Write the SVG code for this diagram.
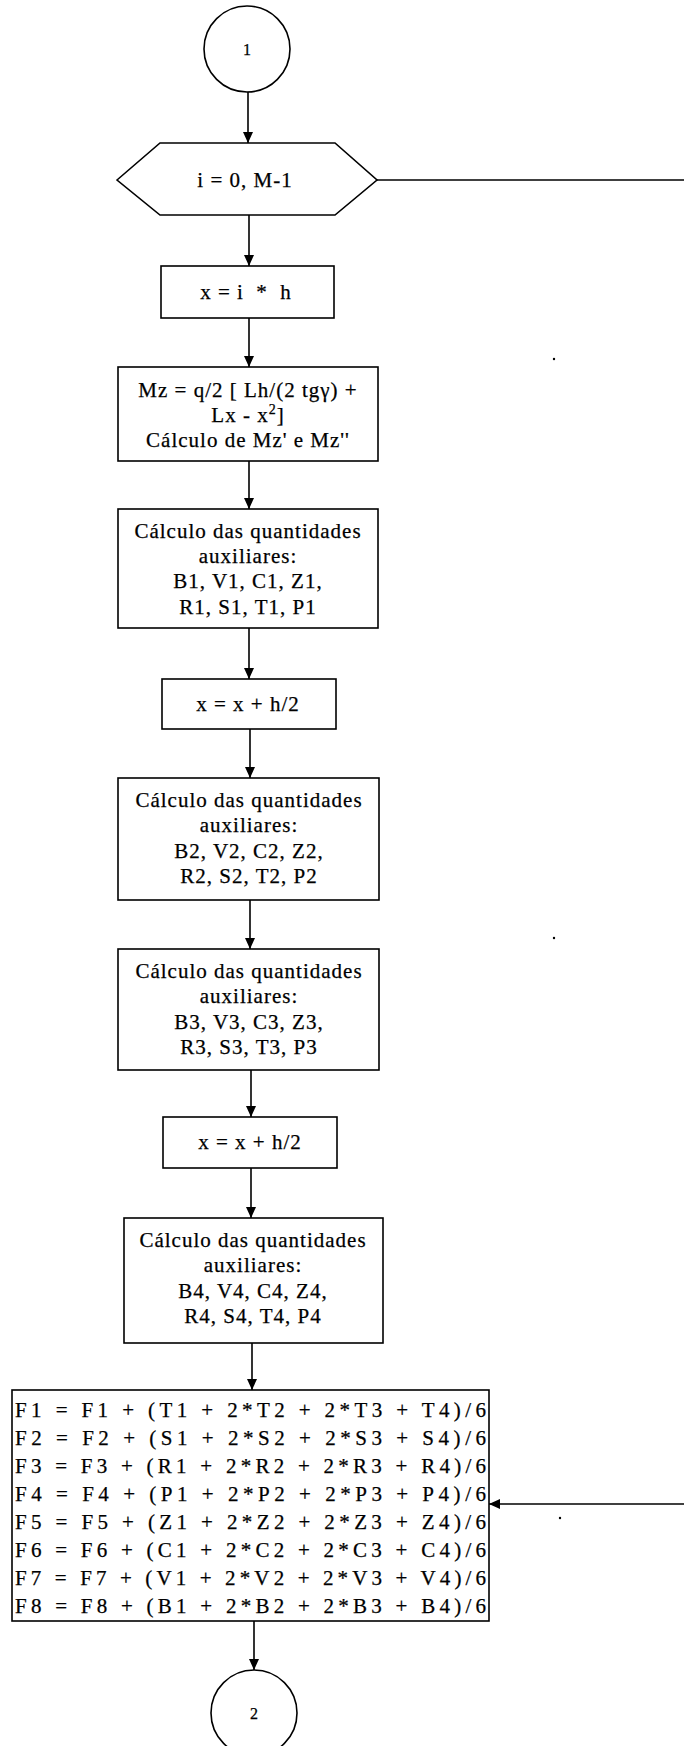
<svg xmlns="http://www.w3.org/2000/svg" width="684" height="1746" viewBox="0 0 684 1746">
<style>
.s{fill:#fff;stroke:#000;stroke-width:1.6}
.t{font-family:"Liberation Serif","Times New Roman",serif;font-size:21px;letter-spacing:1px;text-anchor:middle;fill:#000;stroke:#000;stroke-width:0.25}
.f{font-family:"Liberation Serif","Times New Roman",serif;font-size:21px;fill:#000;stroke:#000;stroke-width:0.25}
.c{fill:none;stroke:#000;stroke-width:1.6}
</style>
<defs>
<marker id="ah" markerWidth="12" markerHeight="12" refX="11" refY="5.5" orient="auto" markerUnits="userSpaceOnUse">
<path d="M0,0.5 L11,5.5 L0,10.5 Z" fill="#000"/>
</marker>
</defs>
<rect width="684" height="1746" fill="#fff"/>
<g id="connectors">
<line class="c" x1="248" y1="92" x2="248" y2="143" marker-end="url(#ah)"/>
<line class="c" x1="377" y1="180" x2="684" y2="180"/>
<line class="c" x1="249" y1="215" x2="249" y2="266" marker-end="url(#ah)"/>
<line class="c" x1="249" y1="318" x2="249" y2="367" marker-end="url(#ah)"/>
<line class="c" x1="249" y1="461" x2="249" y2="509" marker-end="url(#ah)"/>
<line class="c" x1="249" y1="628" x2="249" y2="679" marker-end="url(#ah)"/>
<line class="c" x1="250" y1="729" x2="250" y2="778" marker-end="url(#ah)"/>
<line class="c" x1="250" y1="900" x2="250" y2="949" marker-end="url(#ah)"/>
<line class="c" x1="251" y1="1070" x2="251" y2="1117" marker-end="url(#ah)"/>
<line class="c" x1="251" y1="1168" x2="251" y2="1218" marker-end="url(#ah)"/>
<line class="c" x1="252" y1="1343" x2="252" y2="1390" marker-end="url(#ah)"/>
<line class="c" x1="254" y1="1621" x2="254" y2="1670" marker-end="url(#ah)"/>
<line class="c" x1="684" y1="1504" x2="489" y2="1504" marker-end="url(#ah)"/>
</g>
<g id="start1">
<circle class="s" cx="247" cy="49" r="43"/>
<text class="t" x="247" y="55" style="font-size:16px;letter-spacing:0">1</text>
</g>
<g id="loop">
<polygon class="s" points="117,180 160,143 335,143 377,180 335,215 160,215"/>
<text class="t" x="245" y="187">i = 0, M-1</text>
</g>
<g id="xih">
<rect class="s" x="161" y="266" width="173" height="52"/>
<text class="t" x="246" y="299" xml:space="preserve">x = i  *  h</text>
</g>
<g id="mz">
<rect class="s" x="118" y="367" width="260" height="94"/>
<text class="t" x="248" y="397">Mz = q/2 [ Lh/(2 tgγ) +</text>
<text class="t" x="248" y="422">Lx - x<tspan dy="-8" style="font-size:14px">2</tspan><tspan dy="8">]</tspan></text>
<text class="t" x="248" y="447">Cálculo de Mz' e Mz''</text>
</g>
<g id="aux1">
<rect class="s" x="118" y="509" width="260" height="119"/>
<text class="t" x="248" y="538">Cálculo das quantidades</text>
<text class="t" x="248" y="563">auxiliares:</text>
<text class="t" x="248" y="588">B1, V1, C1, Z1,</text>
<text class="t" x="248" y="614">R1, S1, T1, P1</text>
</g>
<g id="xh2a">
<rect class="s" x="162" y="679" width="174" height="50"/>
<text class="t" x="248" y="711">x = x + h/2</text>
</g>
<g id="aux2">
<rect class="s" x="118" y="778" width="261" height="122"/>
<text class="t" x="249" y="807">Cálculo das quantidades</text>
<text class="t" x="249" y="832">auxiliares:</text>
<text class="t" x="249" y="858">B2, V2, C2, Z2,</text>
<text class="t" x="249" y="883">R2, S2, T2, P2</text>
</g>
<g id="aux3">
<rect class="s" x="118" y="949" width="261" height="121"/>
<text class="t" x="249" y="978">Cálculo das quantidades</text>
<text class="t" x="249" y="1003">auxiliares:</text>
<text class="t" x="249" y="1029">B3, V3, C3, Z3,</text>
<text class="t" x="249" y="1054">R3, S3, T3, P3</text>
</g>
<g id="xh2b">
<rect class="s" x="163" y="1117" width="174" height="51"/>
<text class="t" x="250" y="1149">x = x + h/2</text>
</g>
<g id="aux4">
<rect class="s" x="124" y="1218" width="259" height="125"/>
<text class="t" x="253" y="1247">Cálculo das quantidades</text>
<text class="t" x="253" y="1272">auxiliares:</text>
<text class="t" x="253" y="1298">B4, V4, C4, Z4,</text>
<text class="t" x="253" y="1323">R4, S4, T4, P4</text>
</g>
<g id="update">
<rect class="s" x="12" y="1390" width="477" height="231"/>
<text class="f" x="15" y="1417" textLength="471" lengthAdjust="spacing">F1 = F1 + (T1 + 2*T2 + 2*T3 + T4)/6</text>
<text class="f" x="15" y="1445" textLength="471" lengthAdjust="spacing">F2 = F2 + (S1 + 2*S2 + 2*S3 + S4)/6</text>
<text class="f" x="15" y="1473" textLength="471" lengthAdjust="spacing">F3 = F3 + (R1 + 2*R2 + 2*R3 + R4)/6</text>
<text class="f" x="15" y="1501" textLength="471" lengthAdjust="spacing">F4 = F4 + (P1 + 2*P2 + 2*P3 + P4)/6</text>
<text class="f" x="15" y="1529" textLength="471" lengthAdjust="spacing">F5 = F5 + (Z1 + 2*Z2 + 2*Z3 + Z4)/6</text>
<text class="f" x="15" y="1557" textLength="471" lengthAdjust="spacing">F6 = F6 + (C1 + 2*C2 + 2*C3 + C4)/6</text>
<text class="f" x="15" y="1585" textLength="471" lengthAdjust="spacing">F7 = F7 + (V1 + 2*V2 + 2*V3 + V4)/6</text>
<text class="f" x="15" y="1613" textLength="471" lengthAdjust="spacing">F8 = F8 + (B1 + 2*B2 + 2*B3 + B4)/6</text>
</g>
<g id="end2">
<circle class="s" cx="254" cy="1713" r="43"/>
<text class="t" x="254" y="1719" style="font-size:16px;letter-spacing:0">2</text>
</g>
<g id="marks">
<circle cx="554" cy="359" r="1.2" fill="#000"/>
<circle cx="554" cy="938" r="1.2" fill="#000"/>
<circle cx="560" cy="1518" r="1.2" fill="#000"/>
</g>
</svg>
